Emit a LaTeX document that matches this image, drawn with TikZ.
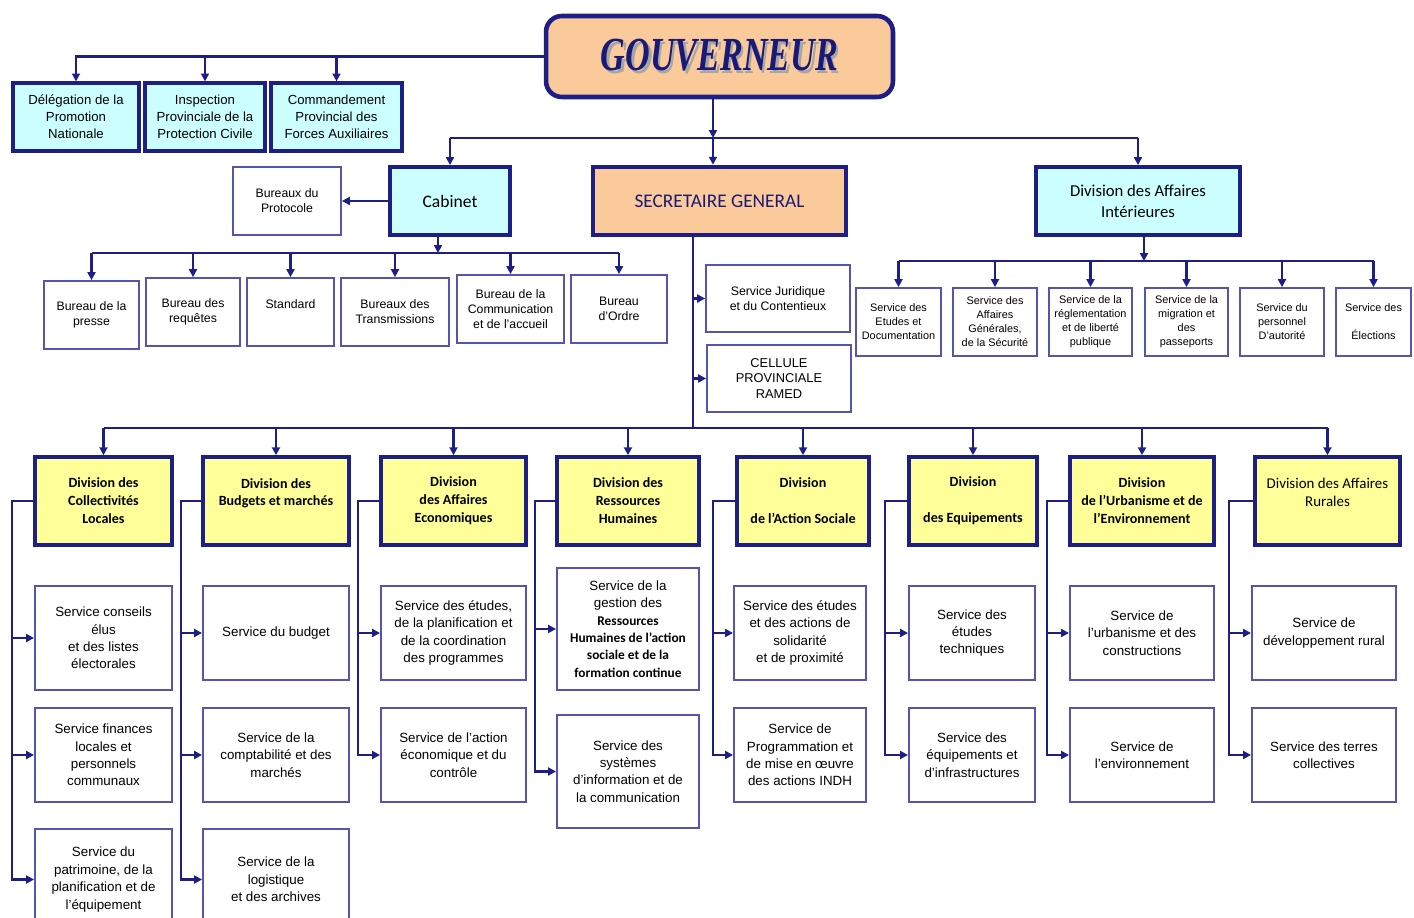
\documentclass[tikz,border=0pt]{standalone}
\usepackage{fontspec}
\setmainfont{Liberation Sans}
\newfontfamily\calfont{Carlito}
\newfontfamily\govfont{Liberation Serif}
\usetikzlibrary{arrows.meta}
\definecolor{navyLine}{RGB}{30,30,135}
\definecolor{servBlue}{RGB}{85,85,175}
\definecolor{peachFill}{RGB}{251,202,155}
\definecolor{cyanFill}{RGB}{204,255,255}
\definecolor{yellowFill}{RGB}{255,255,153}
\definecolor{govBlue}{RGB}{25,25,120}
\begin{document}
\begin{tikzpicture}[x=0.02cm, y=-0.02cm,
  govStyle/.style={rectangle, rounded corners=9pt, draw=navyLine, line width=2.6pt, fill=peachFill, inner sep=0pt},
  headStyle/.style={rectangle, draw=navyLine, line width=2.2pt, inner sep=0pt, align=center, minimum height=1.36cm, font=\calfont\fontsize{9.5}{12}\selectfont},
  topStyle/.style={rectangle, draw=navyLine, line width=1.8pt, fill=cyanFill, inner sep=0pt, align=center, minimum height=1.36cm, font=\fontsize{7.5}{9.6}\selectfont},
  subStyle/.style={rectangle, draw=servBlue, line width=1pt, fill=white, inner sep=0pt, align=center, minimum height=1.36cm, font=\fontsize{7}{8.5}\selectfont},
  daiSubStyle/.style={subStyle, font=\fontsize{6.2}{8}\selectfont},
  divStyle/.style={rectangle, draw=navyLine, line width=2pt, fill=yellowFill, inner sep=0pt, align=center, minimum height=1.76cm, font=\calfont\bfseries\fontsize{8}{10.2}\selectfont},
  servStyle/.style={rectangle, draw=servBlue, line width=1.1pt, fill=white, inner sep=0pt, align=center, minimum height=1.88cm, font=\fontsize{7.6}{9.9}\selectfont},
  linkStyle/.style={draw=navyLine, line width=1.35pt},
  arrowStyle/.style={linkStyle, -{Triangle[length=4.5pt,width=4.5pt]}}]
    \useasboundingbox (0,0) rectangle (1414,918);
    \clip (0,0) rectangle (1414,918);

    % governor and staff
    \node[govStyle, minimum width=6.94cm, minimum height=1.62cm] (gov) at (719.5,56.5) {\govfont\bfseries\itshape\fontsize{27}{27}\selectfont\color{govBlue}\scalebox{0.72}[1]{\rlap{\textcolor{gray!70}{\hspace{2pt}\raisebox{-2pt}{GOUVERNEUR}}}GOUVERNEUR}};

    \node[topStyle, minimum width=2.52cm] (del) at ( 76,117) {Délégation de la\\Promotion\\Nationale};
    \node[topStyle, minimum width=2.40cm] (ins) at (205,117) {Inspection\\Provinciale de la\\Protection Civile};
    \node[topStyle, minimum width=2.62cm] (com) at (336.5,117) {Commandement\\Provincial des\\Forces Auxiliaires};

    % second level
    \node[subStyle, minimum width=2.16cm] (proto) at (287,201) {Bureaux du\\Protocole};
    \node[headStyle, fill=cyanFill, minimum width=2.40cm, font=\calfont\fontsize{10}{12}\selectfont] (cab) at (450,201) {Cabinet};
    \node[headStyle, fill=peachFill, line width=2.6pt, minimum width=5.06cm, text=govBlue, font=\calfont\fontsize{11}{13}\selectfont] (sg) at (719.5,201) {SECRETAIRE GENERAL};
    \node[headStyle, fill=cyanFill, minimum width=4.08cm] (dai) at (1138,201) {Division des Affaires\\Intérieures};

    % cabinet offices
    \node[subStyle, minimum width=1.90cm] (presse) at ( 91.5,315) {Bureau de la\\presse};
    \node[subStyle, minimum width=1.88cm] (req)    at (193,312) {Bureau des\\requêtes};
    \node[subStyle, minimum width=1.74cm] (std)    at (290.5,312) {Standard\\~};
    \node[subStyle, minimum width=2.16cm] (trans)  at (395,312) {Bureaux des\\Transmissions};
    \node[subStyle, minimum width=2.14cm] (comm)   at (510.5,309) {Bureau de la\\Communication\\et de l'accueil};
    \node[subStyle, minimum width=1.92cm] (ordre)  at (619,309) {Bureau\\d'Ordre};

    % attached to the secretary
    \node[subStyle, minimum width=2.88cm, minimum height=1.34cm] (jur)   at (778,298.5) {Service Juridique\\et du Contentieux};
    \node[subStyle, minimum width=2.88cm, minimum height=1.34cm, font=\fontsize{7.3}{9}\selectfont] (ramed) at (779,378.5) {CELLULE\\PROVINCIALE\\RAMED};

    % interior affairs services
    \node[daiSubStyle, minimum width=1.70cm] (etu)  at ( 898.5,322) {Service des\\Etudes et\\Documentation};
    \node[daiSubStyle, minimum width=1.68cm] (agen) at ( 995,322) {Service des\\Affaires\\Générales,\\de la Sécurité};
    \node[daiSubStyle, minimum width=1.66cm] (regl) at (1090.5,322) {Service de la\\réglementation\\et de liberté\\publique};
    \node[daiSubStyle, minimum width=1.66cm] (migr) at (1186.5,322) {Service de la\\migration et\\des\\passeports};
    \node[daiSubStyle, minimum width=1.68cm] (pers) at (1282,322) {Service du\\personnel\\D'autorité};
    \node[daiSubStyle, minimum width=1.50cm] (elec) at (1373.5,322) {Service des\\~\\Élections};

    % divisions
    \node[divStyle, minimum width=2.74cm] (div_1) at ( 103.5,501) {Division des\\Collectivités\\Locales};
    \node[divStyle, minimum width=2.92cm] (div_2) at ( 276,501) {Division des\\Budgets et marchés\\~};
    \node[divStyle, minimum width=2.90cm] (div_3) at ( 453.5,501) {Division\\des Affaires\\Economiques};
    \node[divStyle, minimum width=2.84cm] (div_4) at ( 628,501) {Division des\\Ressources\\Humaines};
    \node[divStyle, minimum width=2.64cm] (div_5) at ( 803,501) {Division\\~\\de l’Action Sociale};
    \node[divStyle, minimum width=2.56cm] (div_6) at ( 973,501) {Division\\~\\des Equipements};
    \node[divStyle, minimum width=2.88cm] (div_7) at (1142,501) {Division\\de l’Urbanisme et de\\l’Environnement};
    \node[divStyle, minimum width=2.90cm, font=\calfont\fontsize{8.5}{10.2}\selectfont] (div_8) at (1327.5,501) {Division des Affaires\\Rurales\\~};

    % services of the divisions
    \node[servStyle, minimum width=2.74cm, minimum height=2.08cm] (serv_1_1) at (103.5,638) {Service conseils\\élus\\et des listes\\électorales};
    \node[servStyle, minimum width=2.74cm] (serv_1_2) at (103.5,755) {Service finances\\locales et\\personnels\\communaux};
    \node[servStyle, minimum width=2.74cm, minimum height=2.02cm] (serv_1_3) at (103.5,879.5) {Service du\\patrimoine, de la\\planification et de\\l'équipement};

    \node[servStyle, minimum width=2.92cm] (serv_2_1) at (276,633) {Service du budget};
    \node[servStyle, minimum width=2.92cm] (serv_2_2) at (276,755) {Service de la\\comptabilité et des\\marchés};
    \node[servStyle, minimum width=2.92cm, minimum height=2.02cm] (serv_2_3) at (276,879.5) {Service de la\\logistique\\et des archives};

    \node[servStyle, minimum width=2.90cm] (serv_3_1) at (453.5,633) {Service des études,\\de la planification et\\de la coordination\\des programmes};
    \node[servStyle, minimum width=2.90cm] (serv_3_2) at (453.5,755) {Service de l'action\\économique et du\\contrôle};

    \node[servStyle, minimum width=2.84cm, minimum height=2.44cm] (serv_4_1) at (628,629) {Service de la\\gestion des\\{\calfont\bfseries Ressources}\\{\calfont\bfseries Humaines de l’action}\\{\calfont\bfseries sociale et de la}\\{\calfont\bfseries formation continue}};
    \node[servStyle, minimum width=2.84cm, minimum height=2.26cm] (serv_4_2) at (628,771.5) {Service des\\systèmes\\d'information et de\\la communication};

    \node[servStyle, minimum width=2.64cm] (serv_5_1) at (800,633) {Service des études\\et des actions de\\solidarité\\et de proximité};
    \node[servStyle, minimum width=2.64cm] (serv_5_2) at (800,755) {Service de\\Programmation et\\de mise en œuvre\\des actions INDH};

    \node[servStyle, minimum width=2.52cm] (serv_6_1) at (972,633) {Service des\\études\\techniques};
    \node[servStyle, minimum width=2.52cm] (serv_6_2) at (972,755) {Service des\\équipements et\\d'infrastructures};

    \node[servStyle, minimum width=2.88cm] (serv_7_1) at (1142,633) {Service de\\l'urbanisme et des\\constructions};
    \node[servStyle, minimum width=2.88cm] (serv_7_2) at (1142,755) {Service de\\l'environnement};

    \node[servStyle, minimum width=2.88cm] (serv_8_1) at (1324,633) {Service de\\développement rural};
    \node[servStyle, minimum width=2.88cm] (serv_8_2) at (1324,755) {Service des terres\\collectives};

    % junction points
    \coordinate (bus_gov) at (713,138);
    \coordinate (bus_cab) at (438,253);
    \coordinate (bus_sg)  at (693,428);
    \coordinate (bus_dai) at (1144,261);
    \coordinate (sp_1) at (  12,498);
    \coordinate (sp_2) at ( 181,498);
    \coordinate (sp_3) at ( 358,498);
    \coordinate (sp_4) at ( 535,498);
    \coordinate (sp_5) at ( 713,498);
    \coordinate (sp_6) at ( 885,498);
    \coordinate (sp_7) at (1047,498);
    \coordinate (sp_8) at (1229,498);

    % governor links
    \draw[arrowStyle] (gov.west) -| (del.north);
    \draw[arrowStyle] (gov.west -| ins.north) -- (ins.north);
    \draw[arrowStyle] (gov.west -| com.north) -- (com.north);
    \draw[arrowStyle] (gov.south -| bus_gov) -- (bus_gov);
    \draw[linkStyle] (bus_gov -| cab.north) -- (bus_gov -| dai.north);
    \draw[arrowStyle] (bus_gov -| cab.north) -- (cab.north);
    \draw[arrowStyle] (bus_gov) -- (bus_gov |- sg.north);
    \draw[arrowStyle] (bus_gov -| dai.north) -- (dai.north);

    % cabinet links
    \draw[arrowStyle] (cab.west) -- (proto.east);
    \draw[arrowStyle] (cab.south -| bus_cab) -- (bus_cab);
    \draw[linkStyle] (bus_cab -| presse.north) -- (bus_cab -| ordre.north);
    \draw[arrowStyle] (bus_cab -| presse.north) -- (presse.north);
    \draw[arrowStyle] (bus_cab -| req.north) -- (req.north);
    \draw[arrowStyle] (bus_cab -| std.north) -- (std.north);
    \draw[arrowStyle] (bus_cab -| trans.north) -- (trans.north);
    \draw[arrowStyle] (bus_cab -| comm.north) -- (comm.north);
    \draw[arrowStyle] (bus_cab -| ordre.north) -- (ordre.north);

    % interior affairs links
    \draw[arrowStyle] (dai.south -| bus_dai) -- (bus_dai);
    \draw[linkStyle] (bus_dai -| etu.north) -- (bus_dai -| elec.north);
    \draw[arrowStyle] (bus_dai -| etu.north) -- (etu.north);
    \draw[arrowStyle] (bus_dai -| agen.north) -- (agen.north);
    \draw[arrowStyle] (bus_dai -| regl.north) -- (regl.north);
    \draw[arrowStyle] (bus_dai -| migr.north) -- (migr.north);
    \draw[arrowStyle] (bus_dai -| pers.north) -- (pers.north);
    \draw[arrowStyle] (bus_dai -| elec.north) -- (elec.north);

    % secretary links
    \draw[linkStyle] (sg.south -| bus_sg) -- (bus_sg);
    \draw[arrowStyle] (bus_sg |- jur.west) -- (jur.west);
    \draw[arrowStyle] (bus_sg |- ramed.west) -- (ramed.west);
    \draw[linkStyle] (bus_sg -| div_1.north) -- (bus_sg -| div_8.north);
    \draw[arrowStyle] (bus_sg -| div_1.north) -- (div_1.north);
    \draw[arrowStyle] (bus_sg -| div_2.north) -- (div_2.north);
    \draw[arrowStyle] (bus_sg -| div_3.north) -- (div_3.north);
    \draw[arrowStyle] (bus_sg -| div_4.north) -- (div_4.north);
    \draw[arrowStyle] (bus_sg -| div_5.north) -- (div_5.north);
    \draw[arrowStyle] (bus_sg -| div_6.north) -- (div_6.north);
    \draw[arrowStyle] (bus_sg -| div_7.north) -- (div_7.north);
    \draw[arrowStyle] (bus_sg -| div_8.north) -- (div_8.north);

    % division links
    \draw[arrowStyle] (div_1.west) -- (div_1.west -| sp_1) |- (serv_1_3.west);
    \draw[arrowStyle] (serv_1_1.west -| sp_1) -- (serv_1_1.west);
    \draw[arrowStyle] (serv_1_2.west -| sp_1) -- (serv_1_2.west);

    \draw[arrowStyle] (div_2.west) -- (div_2.west -| sp_2) |- (serv_2_3.west);
    \draw[arrowStyle] (serv_2_1.west -| sp_2) -- (serv_2_1.west);
    \draw[arrowStyle] (serv_2_2.west -| sp_2) -- (serv_2_2.west);

    \draw[arrowStyle] (div_3.west) -- (div_3.west -| sp_3) |- (serv_3_2.west);
    \draw[arrowStyle] (serv_3_1.west -| sp_3) -- (serv_3_1.west);

    \draw[arrowStyle] (div_4.west) -- (div_4.west -| sp_4) |- (serv_4_2.west);
    \draw[arrowStyle] (serv_4_1.west -| sp_4) -- (serv_4_1.west);

    \draw[arrowStyle] (div_5.west) -- (div_5.west -| sp_5) |- (serv_5_2.west);
    \draw[arrowStyle] (serv_5_1.west -| sp_5) -- (serv_5_1.west);

    \draw[arrowStyle] (div_6.west) -- (div_6.west -| sp_6) |- (serv_6_2.west);
    \draw[arrowStyle] (serv_6_1.west -| sp_6) -- (serv_6_1.west);

    \draw[arrowStyle] (div_7.west) -- (div_7.west -| sp_7) |- (serv_7_2.west);
    \draw[arrowStyle] (serv_7_1.west -| sp_7) -- (serv_7_1.west);

    \draw[arrowStyle] (div_8.west) -- (div_8.west -| sp_8) |- (serv_8_2.west);
    \draw[arrowStyle] (serv_8_1.west -| sp_8) -- (serv_8_1.west);
\end{tikzpicture}
\end{document}
